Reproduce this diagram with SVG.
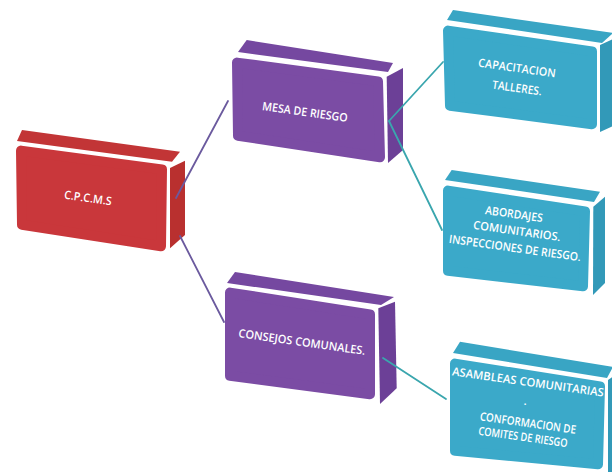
<svg xmlns="http://www.w3.org/2000/svg" width="612" height="472" viewBox="0 0 612 472">
  <style>
    .front { stroke-width: 10; stroke-linejoin: round; }
    .red .front { fill: #c9373b; stroke: #c9373b; }
    .red .top { fill: #c23536; }
    .red .side { fill: #b9302f; }
    .purple .front { fill: #7b4ca4; stroke: #7b4ca4; }
    .purple .top { fill: #7548a0; }
    .purple .side { fill: #6c4097; }
    .cyan .front { fill: #3ba9c9; stroke: #3ba9c9; }
    .cyan .top { fill: #39a5c4; }
    .cyan .side { fill: #3299b8; }
    .label { font-family: "Open Sans", "Liberation Sans", sans-serif; font-weight: 600; font-size: 11.5px; fill: #ffffff; text-anchor: middle; }
    .link { fill: none; stroke-width: 1.8; stroke-linecap: round; }
    .link.p { stroke: #6b5a9e; }
    .link.t { stroke: #3aa6ae; }
  </style>
  <rect width="612" height="472" fill="#ffffff"/>

  <!-- root block -->
  <g id="cpcms" class="red">
    <polygon class="top" points="22,130 180,151.7 172,161.7 17,141"/>
    <polygon class="front" points="21,150.6 162,169.4 161,246.3 22,224.7"/>
    <polygon class="side" points="170,168 185,160.7 185,235 170,248.3"/>
    <text class="label" x="88" y="202" transform="rotate(8 88 198)" textLength="48" lengthAdjust="spacingAndGlyphs">C.P.C.M.S</text>
  </g>

  <!-- second level -->
  <g id="mesa" class="purple">
    <polygon class="top" points="246.7,40 393,63 388,72 238,52"/>
    <polygon class="front" points="237,62.6 378,81.4 380,157.3 238,135.7"/>
    <polygon class="side" points="386.7,76.7 403,68 403,150 388,163"/>
    <text class="label" x="305" y="116" transform="rotate(8 305 112)" textLength="86" lengthAdjust="spacingAndGlyphs">MESA DE RIESGO</text>
  </g>

  <g id="consejos" class="purple">
    <polygon class="top" points="235,272 394,297 381,305 227,283"/>
    <polygon class="front" points="230,292.6 370,314.4 370,394.3 230,375.7"/>
    <polygon class="side" points="378.3,308.3 395,301.7 396.7,388.3 380,404"/>
    <text class="label" x="302" y="346" transform="rotate(8 302 342)" textLength="128" lengthAdjust="spacingAndGlyphs">CONSEJOS COMUNALES.</text>
  </g>

  <!-- third level -->
  <g id="capacitacion" class="cyan">
    <polygon class="top" points="453,10 613,33 602,43 447,20"/>
    <polygon class="front" points="448,30.6 592,51.4 592,124.3 450,105.7"/>
    <polygon class="side" points="600,45 615,38 615,125 600,132"/>
    <text class="label" x="517" y="72" transform="rotate(8 517 68)" textLength="78" lengthAdjust="spacingAndGlyphs">CAPACITACION</text>
    <text class="label" x="517" y="92" transform="rotate(8 517 88)" textLength="50" lengthAdjust="spacingAndGlyphs">TALLERES.</text>
  </g>

  <g id="abordajes" class="cyan">
    <polygon class="top" points="451.7,170 600,191.7 594,202 445,180"/>
    <polygon class="front" points="448,190.6 585,211.4 583,286.3 448,270.7"/>
    <polygon class="side" points="593.3,206.7 605,196.7 605,283 593,295"/>
    <text class="label" x="514" y="218" transform="rotate(8 514 214)" textLength="58" lengthAdjust="spacingAndGlyphs">ABORDAJES</text>
    <text class="label" x="517" y="235" transform="rotate(8 517 231)" textLength="88" lengthAdjust="spacingAndGlyphs">COMUNITARIOS.</text>
    <text class="label" x="515" y="252" transform="rotate(8 515 248)" textLength="133" lengthAdjust="spacingAndGlyphs">INSPECCIONES DE RIESGO.</text>
  </g>

  <g id="asambleas" class="cyan">
    <polygon class="top" points="460,341.7 613,367 607,378 453,353"/>
    <polygon class="front" points="455,363.6 600,386.4 598,464.3 455,450.7"/>
    <polygon class="side" points="608,380 615,375 615,472 608,472"/>
    <text class="label" x="528" y="386" transform="rotate(8 528 382)" textLength="153" lengthAdjust="spacingAndGlyphs">ASAMBLEAS COMUNITARIAS</text>
    <text class="label" x="525" y="405">.</text>
    <text class="label" x="528" y="427" transform="rotate(8 528 423)" textLength="97" lengthAdjust="spacingAndGlyphs">CONFORMACION DE</text>
    <text class="label" x="523" y="441" transform="rotate(8 523 437)" textLength="90" lengthAdjust="spacingAndGlyphs">COMITES DE RIESGO</text>
  </g>

  <!-- connectors -->
  <g id="connectors">
    <line class="link p" x1="176" y1="198" x2="228" y2="101"/>
    <line class="link p" x1="180" y1="236" x2="224" y2="322"/>
    <line class="link t" x1="389" y1="121" x2="443" y2="62"/>
    <line class="link t" x1="389" y1="121" x2="442" y2="230"/>
    <line class="link t" x1="383" y1="358" x2="446" y2="399"/>
  </g>
</svg>
